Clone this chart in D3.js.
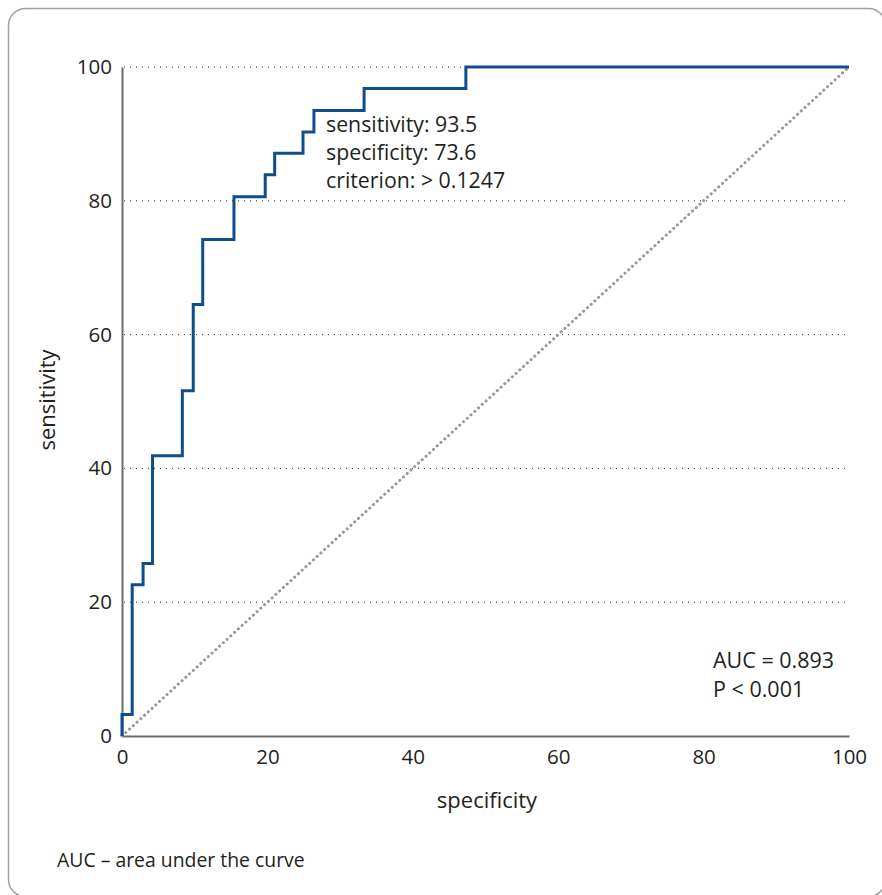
<!DOCTYPE html>
<html><head><meta charset="utf-8">
<script src="https://cdn.jsdelivr.net/npm/d3@7"></script>
<style>body{margin:0;background:#fff;} svg{display:block;} text{font-family:"Open Sans",sans-serif;fill:#231f20;}</style>
</head><body>
<svg id="c" width="882" height="895"></svg>
<script>
// ROC curve data: x = 100 - specificity, y = sensitivity
const fpr = [0, 0, 1.4, 1.4, 2.9, 2.9, 4.2, 4.2, 8.3, 8.3, 9.8, 9.8, 11.1, 11.1, 15.4, 15.4, 19.7, 19.7, 21.0, 21.0, 24.9, 24.9, 26.4, 26.4, 33.3, 33.3, 47.3, 47.3, 100];
const sens = [0, 3.2, 3.2, 22.6, 22.6, 25.8, 25.8, 41.9, 41.9, 51.6, 51.6, 64.5, 64.5, 74.2, 74.2, 80.6, 80.6, 83.9, 83.9, 87.1, 87.1, 90.3, 90.3, 93.5, 93.5, 96.8, 96.8, 100, 100];
const ticks = [0, 20, 40, 60, 80, 100];
const annot = ["sensitivity: 93.5", "specificity: 73.6", "criterion: > 0.1247"];
const stats = ["AUC = 0.893", "P < 0.001"];
const xTitle = "specificity", yTitle = "sensitivity";
const footnote = "AUC \u2013 area under the curve";

const svg = d3.select("#c");
svg.append("rect").attr("x", 8.5).attr("y", 8.5).attr("width", 877).attr("height", 888)
  .attr("rx", 17).attr("fill", "none").attr("stroke", "#a0a0a0").attr("stroke-width", 1.5);

const x = d3.scaleLinear().domain([0, 100]).range([122, 849]);
const y = d3.scaleLinear().domain([0, 100]).range([736, 67]);

// grid
svg.append("g").selectAll("line").data(ticks.filter(d => d > 0)).join("line")
  .attr("x1", x(0) + 2).attr("x2", x(100)).attr("y1", d => y(d)).attr("y2", d => y(d))
  .attr("stroke", "#333").attr("stroke-width", 1).attr("stroke-dasharray", "1 5");

// axes
const xa = svg.append("g").attr("transform", `translate(0,${y(0)})`)
  .call(d3.axisBottom(x).tickValues(ticks).tickSize(0).tickPadding(10));
const ya = svg.append("g").attr("transform", `translate(${x(0)},0)`)
  .call(d3.axisLeft(y).tickValues(ticks).tickSize(0).tickPadding(10));
[xa, ya].forEach(a => {
  a.select(".domain").attr("stroke", "#6d6d6d").attr("stroke-width", 2);
  a.selectAll("text").style("font-family", '"Open Sans",sans-serif').style("font-size", "20.5px").attr("fill", "#231f20");
});
xa.selectAll("text").attr("dy", "0.88em");

// diagonal
svg.append("line").attr("x1", x(0)).attr("y1", y(0)).attr("x2", x(100)).attr("y2", y(100))
  .attr("stroke", "#999").attr("stroke-width", 3).attr("stroke-linecap", "round").attr("stroke-dasharray", "0.1 5");

// ROC
const pts = fpr.map((d, i) => [d, sens[i]]);
svg.append("path").attr("d", d3.line().x(d => x(d[0])).y(d => y(d[1]))(pts))
  .attr("fill", "none").attr("stroke", "#0d4f8c").attr("stroke-width", 3);

// annotations
svg.append("g").selectAll("text").data(annot).join("text")
  .attr("x", 326).attr("y", (d, i) => 132 + i * 28.2).style("font-size", "21.3px").text(d => d);
svg.append("g").selectAll("text").data(stats).join("text")
  .attr("x", 713).attr("y", (d, i) => 668 + i * 29).style("font-size", "21.5px").text(d => d);

svg.append("text").attr("x", 487).attr("y", 808).attr("text-anchor", "middle")
  .style("font-size", "22px").text(xTitle);
svg.append("text").attr("transform", `translate(55,400) rotate(-90)`).attr("text-anchor", "middle")
  .style("font-size", "22px").text(yTitle);
svg.append("text").attr("x", 57).attr("y", 867).style("font-size", "19.4px").text(footnote);
</script>
</body></html>
